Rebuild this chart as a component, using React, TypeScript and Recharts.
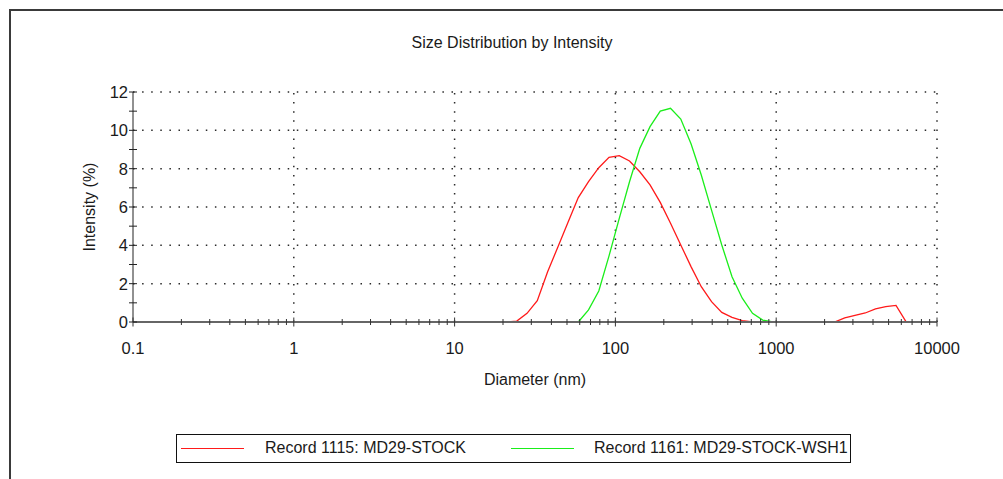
import React from 'react';
import { LineChart, Line, XAxis, YAxis, ReferenceLine } from 'recharts';

// Size classes (nm) of the intensity distribution
const diameters = [
  0.4, 0.4632, 0.5365, 0.6213, 0.7195, 0.8332, 0.9649, 1.117, 1.294, 1.499,
  1.736, 2.01, 2.328, 2.696, 3.122, 3.615, 4.187, 4.849, 5.615, 6.503,
  7.531, 8.721, 10.1, 11.7, 13.54, 15.69, 18.17, 21.04, 24.36, 28.21,
  32.67, 37.84, 43.82, 50.75, 58.77, 68.06, 78.82, 91.28, 105.7, 122.4,
  141.8, 164.2, 190.1, 220.2, 255.0, 295.3, 342.0, 396.1, 458.7, 531.2,
  615.1, 712.4, 825.0, 955.4, 1106, 1281, 1484, 1718, 1990, 2305,
  2669, 3091, 3580, 4145, 4801, 5560, 6439, 7456, 8635, 10000,
];

// Intensity (%) per size class
const record1115 = [
  0, 0, 0, 0, 0, 0, 0, 0, 0, 0,
  0, 0, 0, 0, 0, 0, 0, 0, 0, 0,
  0, 0, 0, 0, 0, 0, 0, 0, 0.05, 0.45,
  1.11, 2.61, 3.9, 5.2, 6.49, 7.32, 8.05, 8.59, 8.68, 8.4,
  7.84, 7.15, 6.24, 5.15, 4.02, 2.89, 1.84, 1.06, 0.5, 0.24,
  0.07, 0, 0, 0, 0, 0, 0, 0, 0, 0,
  0.21, 0.35, 0.47, 0.69, 0.8, 0.87, 0, 0, 0, 0,
];

const record1161 = [
  0, 0, 0, 0, 0, 0, 0, 0, 0, 0,
  0, 0, 0, 0, 0, 0, 0, 0, 0, 0,
  0, 0, 0, 0, 0, 0, 0, 0, 0, 0,
  0, 0, 0, 0, 0, 0.63, 1.62, 3.45, 5.41, 7.32,
  9.06, 10.19, 11.0, 11.15, 10.59, 9.3, 7.67, 5.84, 4.02, 2.36,
  1.24, 0.45, 0.1, 0, 0, 0, 0, 0, 0, 0,
  0, 0, 0, 0, 0, 0, 0, 0, 0, 0,
];

const seriesNames = ['Record 1115: MD29-STOCK', 'Record 1161: MD29-STOCK-WSH1'];
const seriesColors = ['#ff1a1a', '#1aee1a'];

const xMajorTicks = [0.1, 1, 10, 100, 1000, 10000];
const xTickLabels = ['0.1', '1', '10', '100', '1000', '10000'];
const xMinorSteps = [2, 3, 4, 5, 6, 7, 8, 9];
const xMinorTicks = xMajorTicks.slice(0, -1).flatMap((d) => xMinorSteps.map((m) => d * m));
const xAllTicks = [...xMajorTicks, ...xMinorTicks].sort((a, b) => a - b);

const yMajorTicks = [0, 2, 4, 6, 8, 10, 12];
const yTickLabels = ['0', '2', '4', '6', '8', '10', '12'];
const yAllTicks = [0, 1, 2, 3, 4, 5, 6, 7, 8, 9, 10, 11, 12];

const xGridValues = [1, 10, 100, 1000, 10000];
const yGridValues = [2, 4, 6, 8, 10, 12];

const chartData = diameters.map((d, i) => ({
  d,
  r1115: record1115[i],
  r1161: record1161[i],
}));

const FONT = '"Liberation Sans", Arial, Helvetica, sans-serif';
const INK = '#1a1a1a';
const TICK_FONT = 16.5;

const majorIndex = (list: number[], v: number) =>
  list.findIndex((t) => Math.abs(t - v) <= Math.abs(t) * 1e-9 + 1e-12);

const XTick = (props: any) => {
  const { x, y, payload } = props;
  const idx = majorIndex(xMajorTicks, payload.value);
  const major = idx >= 0;
  const h = major ? 4.5 : 3;
  return (
    <g>
      <line x1={x} x2={x} y1={y - h} y2={y + h} stroke="#333" strokeWidth={1} />
      {major && (
        <text x={x} y={y + 32} textAnchor="middle" fontFamily={FONT} fontSize={TICK_FONT} fill={INK}>
          {xTickLabels[idx]}
        </text>
      )}
    </g>
  );
};

const YTick = (props: any) => {
  const { x, y, payload } = props;
  const idx = majorIndex(yMajorTicks, payload.value);
  return (
    <g>
      <line x1={x - 4} x2={x + 4} y1={y} y2={y} stroke="#222" strokeWidth={1} />
      {idx >= 0 && (
        <text x={x - 5} y={y + 6} textAnchor="end" fontFamily={FONT} fontSize={TICK_FONT} fill={INK}>
          {yTickLabels[idx]}
        </text>
      )}
    </g>
  );
};

const dotted = { stroke: '#2a2a2a', strokeWidth: 1.5, strokeDasharray: '1.5 7.6' };

export default function App() {
  return (
    <div
      style={{
        position: 'absolute',
        left: 0,
        top: 0,
        width: 1003,
        height: 479,
        background: '#fff',
        fontFamily: FONT,
        color: INK,
        overflow: 'hidden',
      }}
    >
      {/* outer frame */}
      <div
        style={{
          position: 'absolute',
          left: 9,
          top: 9,
          width: 1003,
          height: 480,
          borderLeft: '2px solid #3a3a3a',
          borderTop: '2px solid #3a3a3a',
        }}
      />

      <div
        style={{
          position: 'absolute',
          left: 312,
          top: 33,
          width: 400,
          lineHeight: '20px',
          textAlign: 'center',
          fontSize: 16,
        }}
      >
        Size Distribution by Intensity
      </div>

      <div style={{ position: 'absolute', left: 0, top: 0 }}>
        <LineChart
          width={1003}
          height={479}
          data={chartData}
          margin={{ top: 92, right: 66, bottom: 117, left: 73 }}
        >
          {yGridValues.map((v) => (
            <ReferenceLine key={`gy${v}`} y={v} {...dotted} />
          ))}
          {xGridValues.map((v) => (
            <ReferenceLine key={`gx${v}`} x={v} {...dotted} />
          ))}
          <XAxis
            dataKey="d"
            type="number"
            scale="log"
            domain={[0.1, 10000]}
            allowDataOverflow
            ticks={xAllTicks}
            interval={0}
            tickSize={0}
            tickMargin={0}
            tickLine={false}
            tick={<XTick />}
            height={40}
            axisLine={{ stroke: '#666', strokeWidth: 2 }}
          />
          <YAxis
            type="number"
            domain={[0, 12]}
            ticks={yAllTicks}
            interval={0}
            tickSize={0}
            tickMargin={0}
            tickLine={false}
            tick={<YTick />}
            width={60}
            axisLine={{ stroke: '#222', strokeWidth: 1 }}
          />
          <Line
            type="linear"
            dataKey="r1115"
            name={seriesNames[0]}
            stroke={seriesColors[0]}
            strokeWidth={1.3}
            dot={false}
            activeDot={false}
            isAnimationActive={false}
          />
          <Line
            type="linear"
            dataKey="r1161"
            name={seriesNames[1]}
            stroke={seriesColors[1]}
            strokeWidth={1.3}
            dot={false}
            activeDot={false}
            isAnimationActive={false}
          />
        </LineChart>
      </div>

      {/* axis titles */}
      <div
        style={{
          position: 'absolute',
          left: -10,
          top: 197,
          width: 200,
          lineHeight: '20px',
          textAlign: 'center',
          fontSize: 16,
          transform: 'rotate(-90deg)',
          transformOrigin: '100px 10px',
        }}
      >
        Intensity (%)
      </div>
      <div
        style={{
          position: 'absolute',
          left: 435,
          top: 370,
          width: 200,
          lineHeight: '20px',
          textAlign: 'center',
          fontSize: 16,
        }}
      >
        Diameter (nm)
      </div>

      {/* legend */}
      <div
        style={{
          position: 'absolute',
          left: 176,
          top: 434,
          width: 675,
          height: 29,
          boxSizing: 'border-box',
          border: '1px solid #111',
          background: '#fff',
        }}
      >
        {seriesNames.map((name, i) => {
          const base = i === 0 ? 0 : 330;
          return (
            <React.Fragment key={name}>
              <div
                style={{
                  position: 'absolute',
                  left: base + 4,
                  top: 13,
                  width: 63,
                  height: 0,
                  borderTop: `1.5px solid ${seriesColors[i]}`,
                }}
              />
              <div
                style={{
                  position: 'absolute',
                  left: base + (i === 0 ? 88 : 87),
                  top: 3,
                  lineHeight: '20px',
                  fontSize: 16,
                  whiteSpace: 'nowrap',
                }}
              >
                {name}
              </div>
            </React.Fragment>
          );
        })}
      </div>
    </div>
  );
}
